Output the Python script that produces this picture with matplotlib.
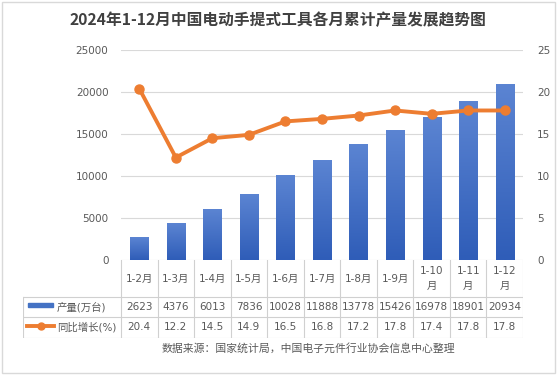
import numpy as np
import matplotlib
matplotlib.use("Agg")
import matplotlib.pyplot as plt
from matplotlib.colors import LinearSegmentedColormap
from matplotlib.patches import Rectangle
from matplotlib.lines import Line2D

plt.rcParams['font.family'] = ['DejaVu Sans', 'Noto Sans CJK SC']

# data
months = ["1-2月", "1-3月", "1-4月", "1-5月", "1-6月", "1-7月", "1-8月", "1-9月",
          "1-10\n月", "1-11\n月", "1-12\n月"]
output = [2623, 4376, 6013, 7836, 10028, 11888, 13778, 15426, 16978, 18901, 20934]
growth = [20.4, 12.2, 14.5, 14.9, 16.5, 16.8, 17.2, 17.8, 17.4, 17.8, 17.8]
row_labels = ["产量(万台)", "同比增长(%)"]

W, H = 557, 376
txt = "#595959"
grid_c = "#D9D9D9"
blue = "#4472C4"
orange = "#ED7D31"

fig = plt.figure(figsize=(W / 100, H / 100), dpi=100)

def fx(px):
    return px / W

def fy(py):
    return 1 - py / H

# outer border
fig.patches.append(Rectangle((fx(2), fy(373)), fx(553), 371 / H, transform=fig.transFigure,
                             fill=False, edgecolor="#D9D9D9", lw=1))

# main axes: x 121..523, y 50..260 px
ax = fig.add_axes([fx(121), fy(260), fx(402), 210 / H])
x = np.arange(len(months))
ax.set_ylim(0, 25000)
ax.set_yticks(range(0, 25001, 5000))
for s in ax.spines.values():
    s.set_visible(False)
ax.tick_params(axis="y", length=0, labelsize=7.5, labelcolor=txt, pad=9)
ax.tick_params(axis="x", length=0, labelbottom=False)
ax.grid(axis="y", color=grid_c, lw=0.8)
ax.set_axisbelow(True)

# gradient bars
cmap = LinearSegmentedColormap.from_list("bar", ["#2F5DB8", "#5B84D2"])
grad = np.linspace(0, 1, 100).reshape(-1, 1)
bw = 0.5
bars = ax.bar(x, output, width=bw, color="none")
for b in bars:
    x0, y0 = b.get_x(), b.get_y()
    ax.imshow(grad, cmap=cmap, origin="lower", aspect="auto",
              extent=(x0, x0 + b.get_width(), y0, y0 + b.get_height()), zorder=2)
ax.set_xlim(-0.5, len(months) - 0.5)
ax.set_ylim(0, 25000)

ax2 = ax.twinx()
ax2.set_ylim(0, 25)
ax2.set_yticks(range(0, 26, 5))
for s in ax2.spines.values():
    s.set_visible(False)
ax2.tick_params(axis="y", length=0, labelsize=7.5, labelcolor=txt, pad=10)
ax2.plot(x, growth, color=orange, lw=2.8, marker="o", ms=6.5, zorder=3)

# title
fig.text(fx(278), fy(20), "2024年1-12月中国电动手提式工具各月累计产量发展趋势图",
         ha="center", va="center", fontsize=11.3, fontweight="bold", color="#404040",
         family=['Noto Sans CJK SC', 'DejaVu Sans'])

# data table: x 23..523 px, y 260..338 px
colw = 402 / len(months)
tab = fig.add_axes([fx(23), fy(338), fx(500), 78 / H])
left = -0.5 - 98 / colw
right = len(months) - 0.5
tab.set_xlim(left, right)
tab.set_ylim(338, 260)
tab.axis("off")
lc = "#D0D0D0"
for i in range(len(months) + 1):
    tab.plot([i - 0.5, i - 0.5], [260, 338], color=lc, lw=0.8)
tab.plot([left, left], [297, 338], color=lc, lw=0.8)
for yy in (297, 317, 338):
    tab.plot([left, right], [yy, yy], color=lc, lw=0.8)
for i, m in enumerate(months):
    tab.text(i, 278.5, m, ha="center", va="center", fontsize=7.5, color=txt, linespacing=1.5)
    tab.text(i, 307, str(output[i]), ha="center", va="center", fontsize=7.5, color=txt)
    tab.text(i, 327.5, f"{growth[i]:.1f}", ha="center", va="center", fontsize=7.5, color=txt)

# legend keys in table
px = lambda p: left + (p - 23) / colw
tab.add_patch(Rectangle((px(28), 302.5), 25 / colw, 4.5, color=blue))
tab.text(px(57), 307, row_labels[0], ha="left", va="center", fontsize=7.5, color=txt)
tab.add_line(Line2D([px(27), px(54)], [326, 326], color=orange, lw=2.8))
tab.plot([px(40.5)], [326], marker="o", ms=5, color=orange)
tab.text(px(57), 327.5, row_labels[1], ha="left", va="center", fontsize=7.5, color=txt)

# source
fig.text(fx(308), fy(348), "数据来源：国家统计局，中国电子元件行业协会信息中心整理",
         ha="center", va="center", fontsize=7.8, color=txt)

fig.savefig("out.png", dpi=100)
